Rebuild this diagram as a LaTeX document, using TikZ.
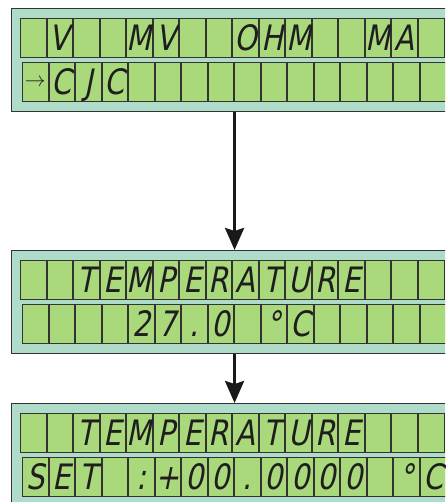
\documentclass[tikz,border=0pt]{standalone}
\usepackage{fontspec}
\usetikzlibrary{arrows.meta}
\newfontfamily\lcdfont[FakeSlant=0.2,FakeStretch=0.82]{DejaVu Sans}
\definecolor{panelmint}{HTML}{AEDCC9}
\definecolor{cellgreen}{HTML}{AAD97C}
\definecolor{segmentdark}{HTML}{1E1E1E}
\newcommand{\lcdarrow}{\raisebox{8pt}{\normalfont\fontsize{20}{20}\selectfont$\rightarrow$}}

\begin{document}
\begin{tikzpicture}[
  x=1pt,
  y=-1pt,
  lcdpanel/.style={draw=black!80,line width=1.1pt,fill=panelmint,minimum width=446pt,
    minimum height=103pt,inner sep=0pt,anchor=north west},
  lcdcell/.style={draw=black!80,line width=0.9pt,fill=cellgreen,minimum width=25.6pt,
    minimum height=39pt,inner sep=0pt,text height=26pt,text depth=0pt,anchor=north west,
    font=\lcdfont\fontsize{35}{35}\selectfont,text=segmentdark},
  flowarrow/.style={draw=black!90,line width=3pt,-{Stealth[length=22pt,width=19pt,inset=3pt]}}
]
  \newcommand{\drawlcdrow}[4]{%
    \foreach \ch [count=\k from 0] in {#4} {
      \node[lcdcell] (#1-\k) at (#2+26.53*\k,#3) {\ch};
    }
  }

  \useasboundingbox (0,0) rectangle (445,502);
  \clip (0,0) rectangle (445,502);

  % Mode menu
  \node[lcdpanel] (lcdA) at (11,8) {};
  \drawlcdrow{modeA}{20}{18}{{},V,{},{},M,V,{},{},O,H,M,{},{},M,A,{}}
  \drawlcdrow{modeB}{22}{62}{\lcdarrow,C,J,C,{},{},{},{},{},{},{},{},{},{},{},{}}

  % Reading
  \node[lcdpanel] (lcdB) at (11,250) {};
  \drawlcdrow{readA}{20}{260}{{},{},T,E,M,P,E,R,A,T,U,R,E,{},{},{}}
  \drawlcdrow{readB}{22}{304}{{},{},{},{},2,7,.,0,{},°,C,{},{},{},{},{}}

  % Set value
  \node[lcdpanel] (lcdC) at (11,403) {};
  \drawlcdrow{setA}{20}{413}{{},{},T,E,M,P,E,R,A,T,U,R,E,{},{},{}}
  \drawlcdrow{setB}{22}{457}{S,E,T,{},:,+,0,0,.,0,0,0,0,{},°,C}

  \draw[flowarrow] (lcdA.south) -- (lcdB.north);
  \draw[flowarrow] (lcdB.south) -- (lcdC.north);
\end{tikzpicture}
\end{document}
